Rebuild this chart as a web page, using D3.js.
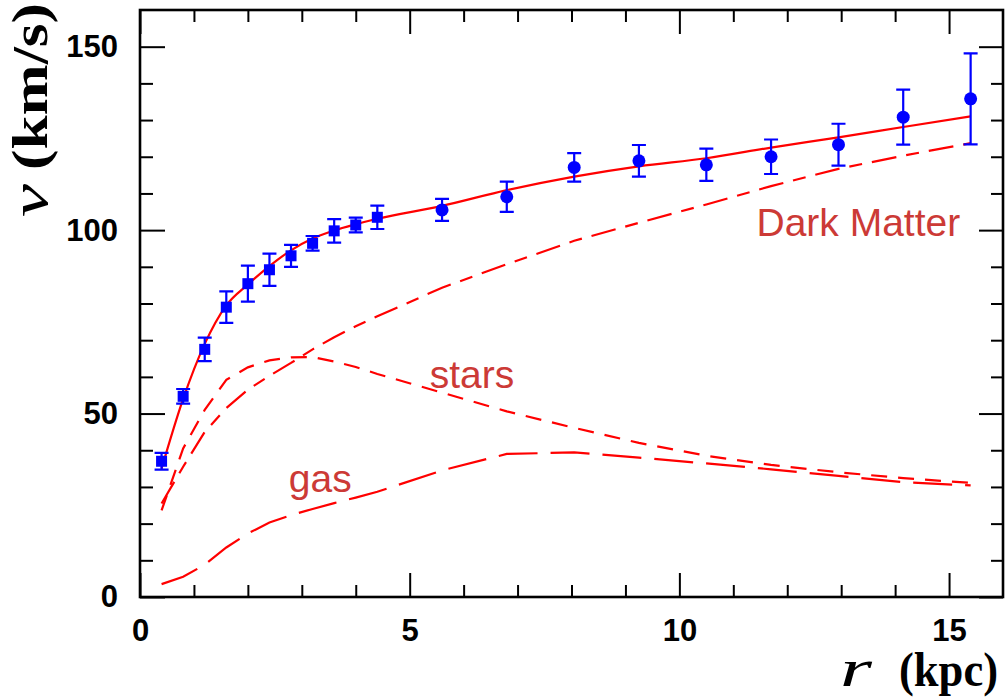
<!DOCTYPE html>
<html>
<head>
<meta charset="utf-8">
<script src="https://cdn.jsdelivr.net/npm/d3@7"></script>
<style>
  html, body { margin: 0; padding: 0; background: #fff; }
  svg { display: block; }
</style>
</head>
<body>
<svg id="chart" width="1006" height="698"></svg>
<script>
// Galaxy rotation curve: observed velocities and mass-model components.
const radii  = [0.4, 0.8, 1.2, 1.6, 2.0, 2.4, 2.8, 3.2, 3.6, 4.0, 4.4, 5.6, 6.8, 8.05, 9.25, 10.5, 11.7, 12.95, 14.15, 15.4];
const vObs   = [37.0, 54.7, 67.5, 79.0, 85.4, 89.2, 93.0, 96.4, 99.8, 101.4, 103.5, 105.5, 109.1, 117.1, 118.9, 117.8, 120.0, 123.3, 130.8, 135.8];
const vErr   = [2.3, 2.0, 3.2, 4.3, 4.9, 4.4, 3.0, 2.0, 3.2, 2.0, 3.2, 3.0, 4.1, 3.9, 4.3, 4.4, 4.7, 5.7, 7.5, 12.4];
const markerShapes = ["square","square","square","square","square","square","square","square","square","square","square",
                      "circle","circle","circle","circle","circle","circle","circle","circle","circle"];

const vTotal = [35.0, 54.0, 69.0, 79.5, 85.2, 90.2, 94.5, 97.7, 99.9, 101.6, 103.1, 106.6, 110.9, 114.6, 117.4, 119.6, 122.5, 125.3, 128.1, 131.0];
const vDark  = [25.5, 35.5, 45.0, 51.5, 56.5, 60.3, 63.8, 67.5, 70.8, 73.8, 76.5, 84.3, 90.7, 97.1, 102.0, 107.0, 112.0, 116.7, 120.3, 123.7];
const vStars = [23.6, 40.5, 51.0, 59.2, 62.6, 64.5, 65.3, 65.4, 64.2, 62.7, 60.8, 55.7, 50.6, 46.1, 42.0, 38.5, 36.0, 34.0, 32.4, 31.1];
const vGas   = [3.5, 5.5, 8.8, 13.5, 17.3, 20.3, 22.3, 24.0, 25.6, 27.1, 28.7, 34.5, 39.0, 39.4, 38.0, 36.4, 34.8, 33.0, 31.3, 30.4];

const xMajorTicks = [0, 5, 10, 15];
const xMinorTicks = [1, 2, 3, 4, 6, 7, 8, 9, 11, 12, 13, 14];
const yMajorTicks = [0, 50, 100, 150];
const yMinorTicks = [10, 20, 30, 40, 60, 70, 80, 90, 110, 120, 130, 140];

const componentLabels = [
  { text: "Dark Matter", r: 11.43, v: 98.3 },
  { text: "stars",       r: 5.37,  v: 57.0 },
  { text: "gas",         r: 2.76,  v: 28.6 }
];

const svg = d3.select("#chart");
const plotLeft = 140, plotTop = 10, plotRight = 1003, plotBottom = 597;

const x = d3.scaleLinear().domain([0, 16]).range([plotLeft, plotRight]);
const y = d3.scaleLinear().domain([0, 160]).range([plotBottom, plotTop]);

const tickFont = "'Liberation Sans', Arial, Helvetica, sans-serif";
const serifFont = "'Liberation Serif', 'Times New Roman', serif";

// Axes: ticks point inward on all four sides
function styleAxis(g) {
  g.select(".domain").remove();
  g.selectAll(".tick line").attr("stroke", "#000").attr("stroke-width", 2);
  g.selectAll(".tick text")
    .attr("fill", "#000")
    .style("font-family", tickFont)
    .style("font-weight", "bold")
    .style("font-size", "31px");
}

svg.append("g").attr("transform", `translate(0,${plotBottom})`)
  .call(d3.axisBottom(x).tickValues(xMajorTicks).tickSize(-24).tickPadding(22).tickFormat(d3.format("d")))
  .call(styleAxis);
svg.append("g").attr("transform", `translate(0,${plotBottom})`)
  .call(d3.axisBottom(x).tickValues(xMinorTicks).tickSize(-12).tickFormat(""))
  .call(styleAxis);
svg.append("g").attr("transform", `translate(0,${plotTop})`)
  .call(d3.axisTop(x).tickValues(xMajorTicks).tickSize(-24).tickFormat(""))
  .call(styleAxis);
svg.append("g").attr("transform", `translate(0,${plotTop})`)
  .call(d3.axisTop(x).tickValues(xMinorTicks).tickSize(-12).tickFormat(""))
  .call(styleAxis);

svg.append("g").attr("transform", `translate(${plotLeft},0)`)
  .call(d3.axisLeft(y).tickValues(yMajorTicks).tickSize(-25).tickPadding(22).tickFormat(d3.format("d")))
  .call(styleAxis);
svg.append("g").attr("transform", `translate(${plotLeft},0)`)
  .call(d3.axisLeft(y).tickValues(yMinorTicks).tickSize(-13).tickFormat(""))
  .call(styleAxis);
svg.append("g").attr("transform", `translate(${plotRight},0)`)
  .call(d3.axisRight(y).tickValues(yMajorTicks).tickSize(-24).tickFormat(""))
  .call(styleAxis);
svg.append("g").attr("transform", `translate(${plotRight},0)`)
  .call(d3.axisRight(y).tickValues(yMinorTicks).tickSize(-12).tickFormat(""))
  .call(styleAxis);

// Frame
svg.append("rect")
  .attr("x", plotLeft).attr("y", plotTop)
  .attr("width", plotRight - plotLeft).attr("height", plotBottom - plotTop)
  .attr("fill", "none").attr("stroke", "#000").attr("stroke-width", 2.6);

// Model curves
const idx = d3.range(radii.length);
const smoothLine = vals => d3.line().x(i => x(radii[i])).y(i => y(vals[i])).curve(d3.curveMonotoneX)(idx);
const straightLine = vals => d3.line().x(i => x(radii[i])).y(i => y(vals[i]))(idx);

const curves = [
  { path: straightLine(vGas),   dash: "39,13" },
  { path: straightLine(vStars), dash: "16,11" },
  { path: straightLine(vDark),  dash: "25,10,13,10" },
  { path: smoothLine(vTotal),   dash: null }
];
svg.append("g").selectAll("path").data(curves).join("path")
  .attr("d", d => d.path)
  .attr("fill", "none")
  .attr("stroke", "#ff0000")
  .attr("stroke-width", 2.2)
  .attr("stroke-dasharray", d => d.dash);

// Observed velocities with error bars
const pts = svg.append("g");
const cap = 7;
pts.selectAll("path.err").data(idx).join("path")
  .attr("class", "err")
  .attr("d", i => {
    const cx = x(radii[i]), y0 = y(vObs[i] - vErr[i]), y1 = y(vObs[i] + vErr[i]);
    return `M${cx},${y0}V${y1}M${cx - cap},${y1}H${cx + cap}M${cx - cap},${y0}H${cx + cap}`;
  })
  .attr("fill", "none").attr("stroke", "#0000ff").attr("stroke-width", 2.2);

pts.selectAll("rect.mk").data(idx.filter(i => markerShapes[i] === "square")).join("rect")
  .attr("class", "mk")
  .attr("x", i => x(radii[i]) - 5.5).attr("y", i => y(vObs[i]) - 5.5)
  .attr("width", 11).attr("height", 11)
  .attr("fill", "#0000ff");
pts.selectAll("circle.mk").data(idx.filter(i => markerShapes[i] === "circle")).join("circle")
  .attr("class", "mk")
  .attr("cx", i => x(radii[i])).attr("cy", i => y(vObs[i]))
  .attr("r", 6.5)
  .attr("fill", "#0000ff");

// Component labels
svg.append("g").selectAll("text").data(componentLabels).join("text")
  .attr("x", d => x(d.r)).attr("y", d => y(d.v))
  .attr("fill", "#cc3a36")
  .style("font-family", tickFont)
  .style("font-size", "39px")
  .text(d => d.text);

// Axis titles
svg.append("text")
  .attr("transform", "translate(47,217) rotate(-90)")
  .attr("textLength", 33).attr("lengthAdjust", "spacingAndGlyphs")
  .style("font-family", serifFont).style("font-style", "italic").style("font-size", "52px")
  .text("v");
svg.append("text")
  .attr("transform", "translate(47,170) rotate(-90)")
  .attr("textLength", 167).attr("lengthAdjust", "spacingAndGlyphs")
  .style("font-family", serifFont).style("font-weight", "bold").style("font-size", "50px")
  .text("(km/s)");

svg.append("text")
  .attr("x", 840).attr("y", 686)
  .attr("textLength", 32).attr("lengthAdjust", "spacingAndGlyphs")
  .style("font-family", serifFont).style("font-style", "italic").style("font-size", "52px")
  .text("r");
svg.append("text")
  .attr("x", 899).attr("y", 686)
  .attr("textLength", 99).attr("lengthAdjust", "spacingAndGlyphs")
  .style("font-family", serifFont).style("font-weight", "bold").style("font-size", "49px")
  .text("(kpc)");
</script>
</body>
</html>
